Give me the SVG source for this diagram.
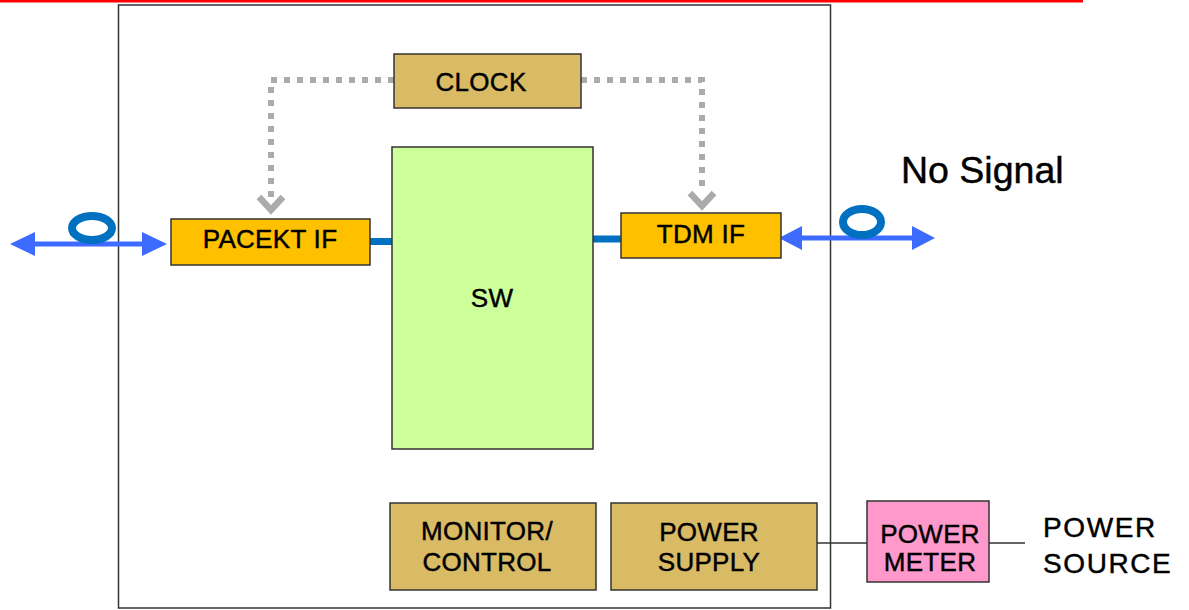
<svg xmlns="http://www.w3.org/2000/svg" width="1189" height="610" viewBox="0 0 1189 610">
<style>
.box{stroke:#333;stroke-width:1.5}
.tan{fill:#D9BB66}
.orange{fill:#FFC000}
.t{font-family:"Liberation Sans",Arial,sans-serif;font-size:26px;fill:#000;stroke:#000;stroke-width:0.45;letter-spacing:0.3px}
.m{text-anchor:middle}
.dot{fill:none;stroke:#ABABAB;stroke-width:6;stroke-dasharray:6 7}
.head{fill:none;stroke:#ABABAB;stroke-width:6.5}
.bus{stroke:#0070C0;stroke-width:7}
.fiber{fill:#3D6BFF}
.loop{fill:none;stroke:#0070C0;stroke-width:8}
.wire{stroke:#333;stroke-width:1.3}
</style>
<rect x="0" y="0" width="1083" height="2.5" fill="#FF0000"/>
<g id="chassis"><rect x="118.5" y="5" width="712" height="603" fill="#fff" class="box"/></g>
<g id="connectors">
<path class="dot" d="M394,80 H271 V200"/>
<path class="head" d="M259,197 L271,210 L283,197"/>
<path class="dot" d="M581,80 H702 V190"/>
<path class="head" d="M690,193 L702,206 L714,193"/>
<line class="bus" x1="370" y1="241.5" x2="392" y2="241.5"/>
<line class="bus" x1="593" y1="239" x2="621" y2="239"/>
<polygon class="fiber" points="10,244 35,232 35,241.5 142,241.5 142,232 167,244 142,256 142,246.5 35,246.5 35,256"/>
<polygon class="fiber" points="779,238 802,226 802,235.5 912,235.5 912,226 935,238 912,250 912,240.5 802,240.5 802,250"/>
<ellipse class="loop" cx="92" cy="228" rx="20" ry="12"/>
<ellipse class="loop" cx="862" cy="222" rx="19" ry="13"/>
<line class="wire" x1="817" y1="543" x2="867" y2="543"/>
<line class="wire" x1="989" y1="543" x2="1025" y2="543"/>
</g>
<g id="clock"><rect x="394" y="54" width="187" height="54" class="box tan"/><text x="481" y="91" class="t m">CLOCK</text></g>
<g id="sw"><rect x="392" y="147" width="201" height="302" class="box" fill="#CCFF99"/><text x="492" y="307" class="t m">SW</text></g>
<g id="packet-if"><rect x="171" y="219" width="199" height="46" class="box orange"/><text x="270" y="248" class="t m">PACEKT IF</text></g>
<g id="tdm-if"><rect x="621" y="213" width="160" height="45" class="box orange"/><text x="701" y="243" class="t m">TDM IF</text></g>
<g id="monitor"><rect x="390" y="503" width="206" height="87" class="box tan"/><text x="487" y="540" class="t m">MONITOR/</text><text x="487" y="571" class="t m">CONTROL</text></g>
<g id="power-supply"><rect x="611" y="503" width="206" height="87" class="box tan"/><text x="709" y="541" class="t m">POWER</text><text x="709" y="571" class="t m">SUPPLY</text></g>
<g id="power-meter"><rect x="867" y="501" width="122" height="81" class="box" fill="#FF99CC"/><text x="930" y="543" class="t m">POWER</text><text x="930" y="571" class="t m">METER</text></g>
<g id="power-source"><text x="1043" y="537" class="t" style="font-size:28px;letter-spacing:1.6px">POWER</text><text x="1043" y="573" class="t" style="font-size:28px;letter-spacing:1.6px">SOURCE</text></g>
<g id="no-signal"><text x="901" y="183" class="t" style="font-size:37.5px;letter-spacing:0">No Signal</text></g>
</svg>
